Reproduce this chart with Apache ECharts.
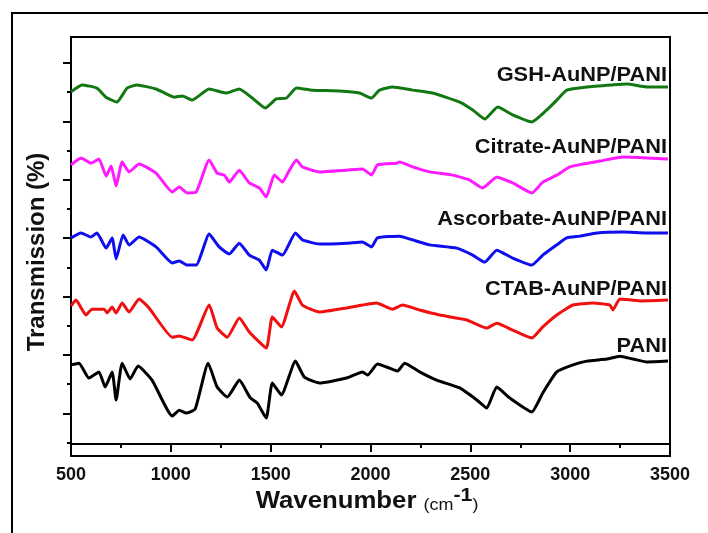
<!DOCTYPE html>
<html>
<head>
<meta charset="utf-8">
<script src="https://cdn.jsdelivr.net/npm/echarts@6/dist/echarts.min.js"></script>
<style>
  html, body { margin: 0; padding: 0; background: #fff; }
  #chart { width: 708px; height: 533px; }
</style>
</head>
<body>
<div id="chart"></div>
<script>
// wavenumber (cm-1) and stacked transmission values
const gshX = [500, 555, 630, 675, 730, 781, 831, 926, 1017, 1057, 1107, 1192, 1278, 1343, 1408, 1473, 1528, 1579, 1629, 1709, 1845, 1945, 2005, 2045, 2110, 2211, 2311, 2447, 2512, 2572, 2637, 2712, 2808, 2883, 2933, 2983, 3084, 3214, 3284, 3385, 3490];
const gshT = [120.6, 123.0, 121.9, 118.8, 117.1, 121.9, 123.0, 121.6, 118.8, 119.2, 117.8, 121.6, 120.2, 121.6, 118.5, 115.1, 118.2, 118.5, 121.9, 121.2, 120.9, 120.2, 118.5, 121.2, 122.3, 121.2, 120.2, 117.1, 114.4, 111.3, 115.4, 112.7, 110.3, 114.4, 117.8, 121.2, 122.3, 123.0, 123.3, 122.3, 122.3];

const citX = [500, 550, 600, 640, 676, 701, 726, 756, 791, 841, 926, 1007, 1042, 1082, 1127, 1192, 1232, 1268, 1293, 1343, 1393, 1443, 1478, 1518, 1559, 1594, 1629, 1659, 1744, 1880, 1960, 2005, 2035, 2130, 2146, 2211, 2296, 2412, 2497, 2562, 2632, 2712, 2808, 2863, 2933, 2998, 3064, 3149, 3264, 3385, 3490];
const citT = [95.6, 98.0, 96.2, 97.6, 91.8, 95.2, 88.4, 96.6, 93.2, 95.9, 92.8, 86.3, 88.0, 86.0, 86.3, 97.3, 92.8, 92.1, 89.7, 93.8, 89.4, 87.7, 84.6, 92.1, 89.7, 93.8, 97.3, 94.9, 93.2, 93.8, 94.2, 92.1, 95.6, 96.2, 96.6, 94.9, 93.2, 92.1, 90.4, 87.7, 91.4, 89.4, 86.0, 89.7, 92.1, 94.9, 95.9, 96.9, 98.3, 98.0, 97.6];

const ascX = [500, 550, 600, 630, 676, 706, 726, 761, 791, 841, 926, 1007, 1042, 1082, 1127, 1192, 1242, 1293, 1343, 1393, 1443, 1478, 1508, 1559, 1624, 1659, 1744, 1880, 1960, 2005, 2035, 2146, 2211, 2296, 2432, 2512, 2572, 2632, 2712, 2808, 2863, 2933, 2983, 3049, 3134, 3264, 3385, 3490];
const ascT = [70.6, 72.3, 70.9, 72.3, 67.1, 70.6, 63.4, 71.6, 68.2, 70.9, 67.5, 62.0, 62.7, 61.3, 61.3, 71.9, 67.5, 65.1, 68.8, 64.7, 63.0, 59.6, 66.4, 64.7, 72.3, 69.9, 68.5, 68.8, 69.2, 67.5, 70.6, 71.2, 69.9, 68.2, 67.1, 64.7, 62.3, 66.4, 63.7, 61.3, 64.7, 68.2, 70.6, 71.2, 72.3, 72.6, 72.3, 72.3];

const ctabX = [500, 525, 575, 605, 666, 681, 706, 726, 756, 791, 841, 891, 1007, 1042, 1107, 1192, 1232, 1283, 1343, 1393, 1478, 1508, 1554, 1619, 1659, 1744, 1880, 1960, 2030, 2110, 2161, 2246, 2346, 2482, 2582, 2632, 2712, 2808, 2863, 2933, 3014, 3114, 3199, 3214, 3249, 3350, 3490];
const ctabT = [47.3, 49.3, 44.2, 46.2, 46.2, 44.9, 46.9, 44.9, 48.3, 45.2, 49.7, 46.6, 36.6, 37.0, 35.6, 47.6, 39.7, 36.6, 43.2, 38.4, 32.9, 43.5, 40.1, 52.4, 47.6, 45.2, 46.6, 47.6, 48.3, 46.2, 47.6, 45.9, 44.2, 42.5, 39.7, 41.4, 39.0, 36.3, 40.1, 44.2, 47.6, 48.3, 47.6, 45.9, 49.7, 49.0, 49.3];

const paniX = [500, 540, 590, 640, 671, 706, 726, 756, 796, 836, 906, 1007, 1042, 1077, 1122, 1187, 1232, 1283, 1343, 1398, 1433, 1478, 1508, 1554, 1624, 1669, 1744, 1880, 1960, 1985, 2035, 2095, 2136, 2171, 2246, 2331, 2447, 2532, 2582, 2632, 2697, 2808, 2863, 2933, 3014, 3084, 3184, 3249, 3315, 3385, 3490];
const paniT = [27.1, 27.7, 22.6, 24.7, 19.5, 24.7, 15.1, 27.7, 22.3, 26.7, 21.9, 9.6, 11.6, 10.6, 12.0, 27.7, 19.5, 16.1, 21.9, 15.8, 14.0, 8.9, 20.9, 16.8, 28.4, 22.9, 20.9, 22.6, 24.7, 23.6, 27.4, 26.0, 25.0, 27.7, 24.7, 21.9, 19.2, 15.1, 12.3, 19.5, 15.8, 11.0, 17.5, 24.7, 27.1, 28.4, 29.1, 30.1, 29.1, 28.1, 28.4];

const names = ['GSH-AuNP/PANI', 'Citrate-AuNP/PANI', 'Ascorbate-AuNP/PANI', 'CTAB-AuNP/PANI', 'PANI'];
const colors = ['#127812', '#ff1aff', '#0f0fee', '#f01010', '#000000'];
const xList = [gshX, citX, ascX, ctabX, paniX];
const tList = [gshT, citT, ascT, ctabT, paniT];
const xMajor = [500, 1000, 1500, 2000, 2500, 3000, 3500];
const xMinor = [750, 1250, 1750, 2250, 2750, 3250];
const yMajor = [10.5, 30.5, 50.5, 70.5, 90.5, 110.5, 130.5];
const yMinor = [0.5, 20.5, 40.5, 60.5, 80.5, 100.5, 120.5];
const labelY = [75, 147, 219, 289, 346];

const FONT = 'Liberation Sans, Arial, sans-serif';
const chart = echarts.init(document.getElementById('chart'));

const series = names.map((name, i) => ({
  name: name,
  type: 'line',
  data: xList[i].map((x, j) => [x, tList[i][j]]),
  symbol: 'none',
  smooth: 0.15,
  lineStyle: { color: colors[i], width: 3 },
  z: 3
}));

const labels = names.map((name, i) => ({
  type: 'text',
  x: 667, y: labelY[i],
  scaleX: 1.09,
  z: 10,
  style: {
    text: name,
    fill: '#111',
    font: 'bold 20px "Liberation Sans", Arial, sans-serif',
    align: 'right',
    verticalAlign: 'middle'
  }
}));

const gridBox = { left: 71, right: 38, top: 37, bottom: 77 };
const yCommon = {
  type: 'value',
  min: -4.1, max: 139.4,
  position: 'left',
  axisLabel: { show: false },
  splitLine: { show: false }
};
const xCommon = {
  type: 'value',
  min: 500, max: 3500,
  position: 'bottom',
  splitLine: { show: false }
};

const option = {
  animation: false,
  backgroundColor: '#fff',
  grid: [
    Object.assign({ show: true, borderColor: '#000', borderWidth: 2 }, gridBox),
    Object.assign({ show: false }, gridBox)
  ],
  xAxis: [
    Object.assign({}, xCommon, {
      gridIndex: 0,
      axisLine: { lineStyle: { color: '#000', width: 2 } },
      axisTick: { customValues: xMajor, length: 8, lineStyle: { color: '#000', width: 2 } },
      axisLabel: {
        customValues: xMajor,
        formatter: (v) => String(v),
        color: '#111',
        fontFamily: FONT,
        fontWeight: 'bold',
        fontSize: 18,
        margin: 10
      }
    }),
    Object.assign({}, xCommon, {
      gridIndex: 1,
      axisLine: { show: false },
      axisTick: { customValues: xMinor, length: 4, lineStyle: { color: '#000', width: 2 } },
      axisLabel: { show: false }
    })
  ],
  yAxis: [
    Object.assign({}, yCommon, {
      gridIndex: 0,
      axisLine: { lineStyle: { color: '#000', width: 2 } },
      axisTick: { customValues: yMajor, length: 8, lineStyle: { color: '#000', width: 2 } }
    }),
    Object.assign({}, yCommon, {
      gridIndex: 1,
      axisLine: { show: false },
      axisTick: { customValues: yMinor, length: 4, lineStyle: { color: '#000', width: 2 } }
    })
  ],
  graphic: [
    {
      type: 'rect',
      shape: { x: 12, y: 13, width: 740, height: 560 },
      style: { fill: null, stroke: '#000', lineWidth: 2 },
      silent: true
    },
    {
      type: 'text',
      x: 37, y: 252,
      rotation: Math.PI / 2,
      style: {
        text: 'Transmission (%)',
        fill: '#111',
        font: 'bold 24px "Liberation Sans", Arial, sans-serif',
        align: 'center',
        verticalAlign: 'middle'
      }
    },
    {
      type: 'text',
      x: 367, y: 502,
      scaleX: 1.12,
      style: {
        text: '{b|Wavenumber }{s|(cm}{sup|-1}{s|)}',
        align: 'center',
        verticalAlign: 'middle',
        rich: {
          b: { fontFamily: FONT, fontWeight: 'bold', fontSize: 23, fill: '#111' },
          s: { fontFamily: FONT, fontSize: 16, fill: '#111', padding: [7, 0, 0, 0] },
          sup: { fontFamily: FONT, fontWeight: 'bold', fontSize: 19, fill: '#111', padding: [0, 0, 12, 0] }
        }
      }
    }
  ].concat(labels),
  series: series
};

chart.setOption(option);
</script>
</body>
</html>
